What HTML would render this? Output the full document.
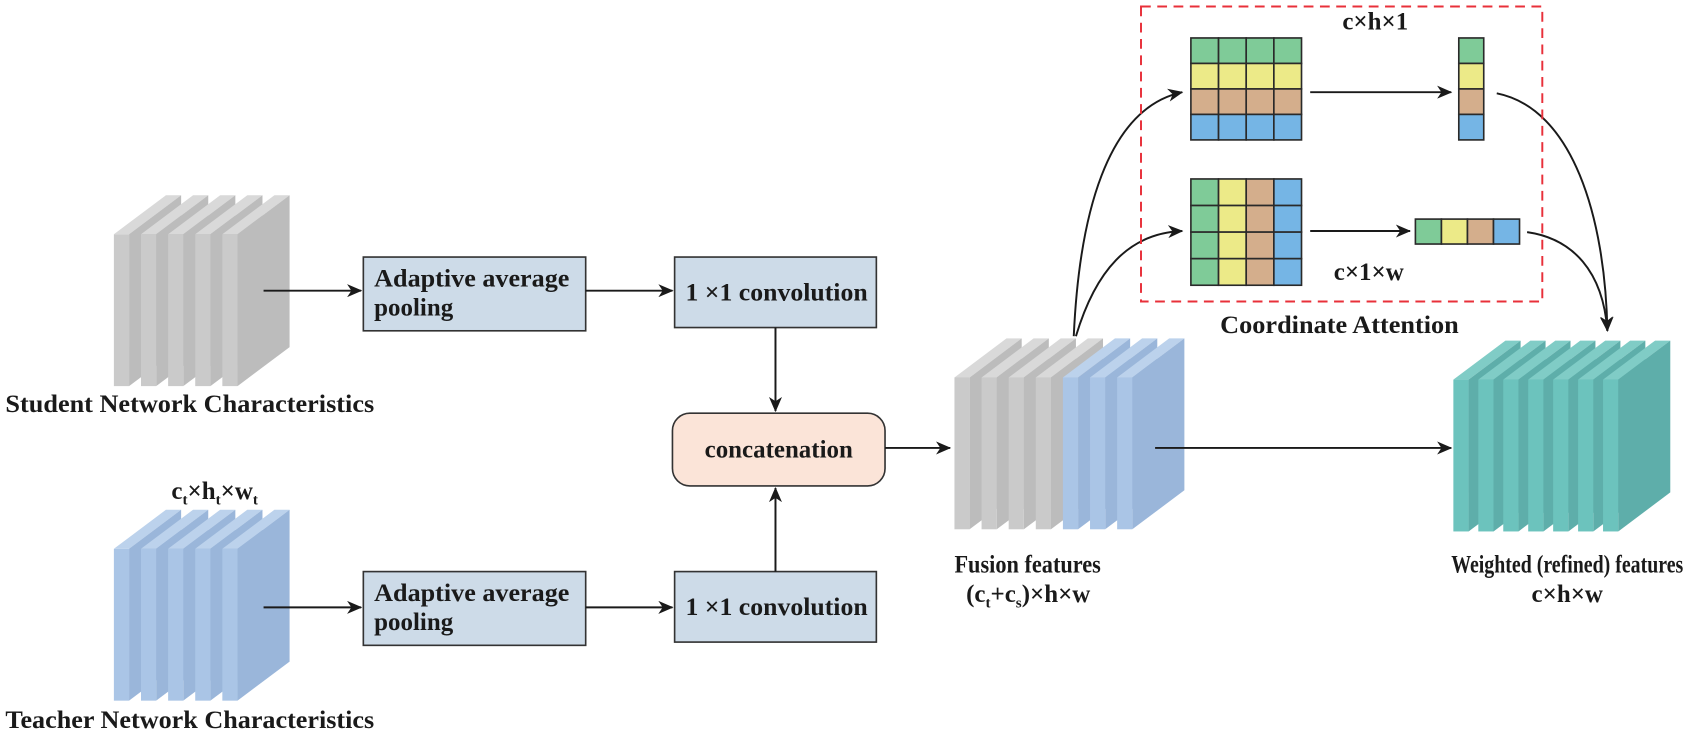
<!DOCTYPE html>
<html><head><meta charset="utf-8"><style>
html,body{margin:0;padding:0;background:#fff}
svg{display:block}
text{font-family:"Liberation Serif",serif;font-weight:bold;fill:#1a1a1a}
</style></head><body>
<svg width="1702" height="734" viewBox="0 0 1702 734" xmlns="http://www.w3.org/2000/svg">
<defs>
<marker id="ah" markerWidth="14" markerHeight="12" refX="13" refY="6" orient="auto" markerUnits="userSpaceOnUse">
<path d="M0,0 L14,6 L0,12 L4,6 Z" fill="#1a1a1a"/></marker>
<g id="sg"><polygon points="0,36 14,36 62,0 48,0" fill="#d9d9d9"/><polygon points="14,36 62,0 62,140 14,176" fill="#bcbcbc"/><rect x="0" y="36" width="14" height="140" fill="#cacaca"/></g>
<g id="sb"><polygon points="0,36 14,36 62,0 48,0" fill="#bcd2ec"/><polygon points="14,36 62,0 62,140 14,176" fill="#9ab6da"/><rect x="0" y="36" width="14" height="140" fill="#aac5e6"/></g>
<g id="st"><polygon points="0,36 14,36 62,0 48,0" fill="#80ccc6"/><polygon points="14,36 62,0 62,140 14,176" fill="#5eaeaa"/><rect x="0" y="36" width="14" height="140" fill="#6cc3bd"/></g>
</defs>
<g transform="scale(1.0846)">
<use href="#sg" x="105" y="180"/><use href="#sg" x="130" y="180"/><use href="#sg" x="155" y="180"/><use href="#sg" x="180" y="180"/><use href="#sg" x="205" y="180"/>
<use href="#sb" x="105" y="470"/><use href="#sb" x="130" y="470"/><use href="#sb" x="155" y="470"/><use href="#sb" x="180" y="470"/><use href="#sb" x="205" y="470"/>
<use href="#sg" x="880" y="312"/><use href="#sg" x="905" y="312"/><use href="#sg" x="930" y="312"/><use href="#sg" x="955" y="312"/>
<use href="#sb" x="980" y="312"/><use href="#sb" x="1005" y="312"/><use href="#sb" x="1030" y="312"/>
<use href="#st" x="1340" y="314"/><use href="#st" x="1363" y="314"/><use href="#st" x="1386" y="314"/><use href="#st" x="1409" y="314"/><use href="#st" x="1432" y="314"/><use href="#st" x="1455" y="314"/><use href="#st" x="1478" y="314"/>

<text x="5" y="380" font-size="23" textLength="340" lengthAdjust="spacingAndGlyphs">Student Network Characteristics</text>
<text x="5" y="671" font-size="23" textLength="340" lengthAdjust="spacingAndGlyphs">Teacher Network Characteristics</text>
<text x="158" y="460" font-size="23">c<tspan font-size="14" dy="5">t</tspan><tspan dy="-5">×h</tspan><tspan font-size="14" dy="5">t</tspan><tspan dy="-5">×w</tspan><tspan font-size="14" dy="5">t</tspan></text>

<g stroke="#333" stroke-width="1.5" fill="#cddbe8">
<rect x="335" y="237" width="205" height="68"/>
<rect x="335" y="527" width="205" height="68"/>
<rect x="622" y="237" width="186" height="65"/>
<rect x="622" y="527" width="186" height="65"/>
</g>
<rect x="620" y="381" width="196" height="67" rx="16" fill="#fbe4d8" stroke="#333" stroke-width="1.5"/>
<text x="345" y="264" font-size="23" textLength="180" lengthAdjust="spacingAndGlyphs">Adaptive average</text><text x="345" y="291" font-size="23">pooling</text>
<text x="345" y="554" font-size="23" textLength="180" lengthAdjust="spacingAndGlyphs">Adaptive average</text><text x="345" y="581" font-size="23">pooling</text>
<text x="632" y="277" font-size="23" textLength="168" lengthAdjust="spacingAndGlyphs">1 ×1 convolution</text>
<text x="632" y="567" font-size="23" textLength="168" lengthAdjust="spacingAndGlyphs">1 ×1 convolution</text>
<text x="718" y="422" font-size="23" text-anchor="middle">concatenation</text>

<g stroke="#1a1a1a" stroke-width="1.8" fill="none" marker-end="url(#ah)">
<line x1="243" y1="268" x2="333" y2="268"/>
<line x1="243" y1="560" x2="333" y2="560"/>
<line x1="540" y1="268" x2="620" y2="268"/>
<line x1="540" y1="560" x2="620" y2="560"/>
<line x1="715" y1="302" x2="715" y2="379"/>
<line x1="715" y1="527" x2="715" y2="450"/>
<line x1="816" y1="413" x2="876" y2="413"/>
<line x1="1065" y1="413" x2="1338" y2="413"/>
<line x1="1208" y1="85" x2="1338" y2="85"/>
<line x1="1208" y1="213" x2="1300" y2="213"/>
<path d="M990,310 C995,200 1020,100 1090,85"/>
<path d="M992,310 C1010,250 1040,215 1090,213"/>
<path d="M1380,86 C1450,100 1480,200 1482,305"/>
<path d="M1408,214 C1450,220 1478,250 1482,305"/>
</g>

<rect x="1052" y="6" width="370" height="272" fill="none" stroke="#e8303a" stroke-width="1.8" stroke-dasharray="9,6"/>

<g stroke="#2a2a2a" stroke-width="1.5">
<g fill="#7fcb98"><rect x="1098" y="35" width="25.5" height="23.5"/><rect x="1123.5" y="35" width="25.5" height="23.5"/><rect x="1149" y="35" width="25.5" height="23.5"/><rect x="1174.5" y="35" width="25.5" height="23.5"/></g>
<g fill="#ecea88"><rect x="1098" y="58.5" width="25.5" height="23.5"/><rect x="1123.5" y="58.5" width="25.5" height="23.5"/><rect x="1149" y="58.5" width="25.5" height="23.5"/><rect x="1174.5" y="58.5" width="25.5" height="23.5"/></g>
<g fill="#d4ae8c"><rect x="1098" y="82" width="25.5" height="23.5"/><rect x="1123.5" y="82" width="25.5" height="23.5"/><rect x="1149" y="82" width="25.5" height="23.5"/><rect x="1174.5" y="82" width="25.5" height="23.5"/></g>
<g fill="#75b5e5"><rect x="1098" y="105.5" width="25.5" height="23.5"/><rect x="1123.5" y="105.5" width="25.5" height="23.5"/><rect x="1149" y="105.5" width="25.5" height="23.5"/><rect x="1174.5" y="105.5" width="25.5" height="23.5"/></g>
<g fill="#7fcb98"><rect x="1098" y="165" width="25.5" height="24.5"/><rect x="1098" y="189.5" width="25.5" height="24.5"/><rect x="1098" y="214" width="25.5" height="24.5"/><rect x="1098" y="238.5" width="25.5" height="24.5"/></g>
<g fill="#ecea88"><rect x="1123.5" y="165" width="25.5" height="24.5"/><rect x="1123.5" y="189.5" width="25.5" height="24.5"/><rect x="1123.5" y="214" width="25.5" height="24.5"/><rect x="1123.5" y="238.5" width="25.5" height="24.5"/></g>
<g fill="#d4ae8c"><rect x="1149" y="165" width="25.5" height="24.5"/><rect x="1149" y="189.5" width="25.5" height="24.5"/><rect x="1149" y="214" width="25.5" height="24.5"/><rect x="1149" y="238.5" width="25.5" height="24.5"/></g>
<g fill="#75b5e5"><rect x="1174.5" y="165" width="25.5" height="24.5"/><rect x="1174.5" y="189.5" width="25.5" height="24.5"/><rect x="1174.5" y="214" width="25.5" height="24.5"/><rect x="1174.5" y="238.5" width="25.5" height="24.5"/></g>
<rect x="1345" y="35" width="23" height="23.5" fill="#7fcb98"/><rect x="1345" y="58.5" width="23" height="23.5" fill="#ecea88"/><rect x="1345" y="82" width="23" height="23.5" fill="#d4ae8c"/><rect x="1345" y="105.5" width="23" height="23.5" fill="#75b5e5"/>
<rect x="1305" y="202" width="24" height="23" fill="#7fcb98"/><rect x="1329" y="202" width="24" height="23" fill="#ecea88"/><rect x="1353" y="202" width="24" height="23" fill="#d4ae8c"/><rect x="1377" y="202" width="24" height="23" fill="#75b5e5"/>
</g>

<text x="1268" y="27" font-size="23" text-anchor="middle">c×h×1</text>
<text x="1262" y="258" font-size="23" text-anchor="middle">c×1×w</text>
<text x="1125" y="307" font-size="23" textLength="220" lengthAdjust="spacingAndGlyphs">Coordinate Attention</text>
<text x="880" y="528" font-size="23" textLength="135" lengthAdjust="spacingAndGlyphs">Fusion features</text>
<text x="948" y="555" font-size="23" text-anchor="middle">(c<tspan font-size="14" dy="5">t</tspan><tspan dy="-5">+c</tspan><tspan font-size="14" dy="5">s</tspan><tspan dy="-5">)×h×w</tspan></text>
<text x="1338" y="528" font-size="23" textLength="214" lengthAdjust="spacingAndGlyphs">Weighted (refined) features</text>
<text x="1445" y="555" font-size="23" text-anchor="middle">c×h×w</text>
</g>
</svg>
</body></html>
